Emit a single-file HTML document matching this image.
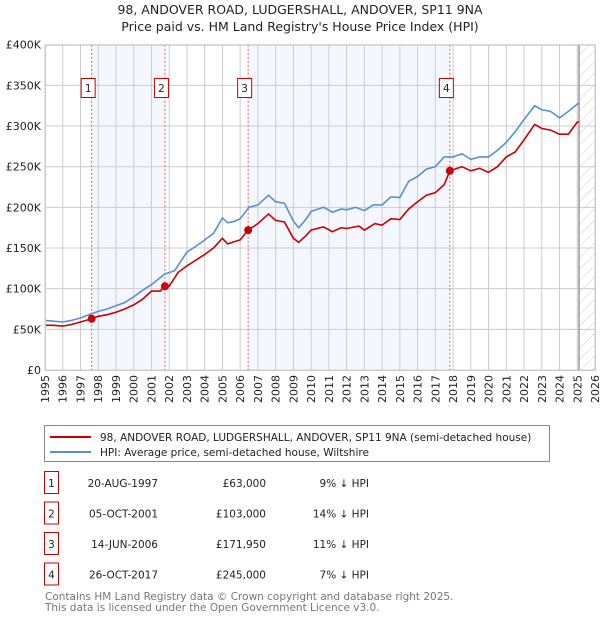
<!DOCTYPE html>
<html><head><meta charset="utf-8"><style>
body{margin:0;background:#fff;font-family:"Liberation Sans","DejaVu Sans",sans-serif;}
svg text{font-family:"DejaVu Sans","Liberation Sans",sans-serif;}
</style></head><body>
<svg id="c" width="600" height="620" xmlns="http://www.w3.org/2000/svg">
<text x="300" y="14" text-anchor="middle" font-size="12.5" fill="#222">98, ANDOVER ROAD, LUDGERSHALL, ANDOVER, SP11 9NA</text>
<text x="300" y="31" text-anchor="middle" font-size="12.5" fill="#222">Price paid vs. HM Land Registry's House Price Index (HPI)</text>
<defs><pattern id="h" width="8" height="8" patternUnits="userSpaceOnUse" patternTransform="rotate(45)"><line x1="0" y1="0" x2="0" y2="8" stroke="#ccc" stroke-width="1"/></pattern></defs>
<g id="plot"></g>
<g>
<rect x="44.5" y="425.5" width="505" height="36" fill="#fff" stroke="#888"/>
<line x1="50" y1="437" x2="91" y2="437" stroke="#cc0000" stroke-width="2"/>
<text x="100" y="441" font-size="10.5" fill="#222">98, ANDOVER ROAD, LUDGERSHALL, ANDOVER, SP11 9NA (semi-detached house)</text>
<line x1="50" y1="452" x2="91" y2="452" stroke="#5b8fd4" stroke-width="2"/>
<text x="100" y="456" font-size="10.5" fill="#222">HPI: Average price, semi-detached house, Wiltshire</text>
</g>
<g id="tbl" font-size="10.5" fill="#222"></g>
<text x="45" y="600" font-size="10.5" fill="#777">Contains HM Land Registry data © Crown copyright and database right 2025.</text>
<text x="45" y="611" font-size="10.5" fill="#777">This data is licensed under the Open Government Licence v3.0.</text>
</svg>
<script>
const hpiT=[1995,1995.5,1996,1996.5,1997,1997.6,1998,1998.5,1999,1999.5,2000,2000.5,2001,2001.75,2002.3,2002.7,2003,2003.5,2004,2004.5,2005,2005.3,2005.7,2006,2006.5,2007,2007.6,2008,2008.5,2009,2009.3,2009.7,2010,2010.7,2011.2,2011.7,2012,2012.5,2013,2013.5,2014,2014.5,2015,2015.5,2016,2016.5,2017,2017.5,2018,2018.5,2019,2019.5,2020,2020.5,2021,2021.5,2022,2022.6,2023,2023.5,2024,2024.5,2025,2025.1];
const hpiV=[61,60,59,61,64,69,72,75,79,83,90,98,105,118,122,135,145,152,160,168,187,181,183,186,200,203,215,207,205,183,175,185,195,200,194,198,197,200,196,203,203,213,212,232,238,247,250,262,262,266,259,262,262,270,280,293,308,325,320,318,310,318,327,328];
const ppT=[1995,1995.5,1996,1996.5,1997,1997.63,1998,1998.5,1999,1999.5,2000,2000.5,2001,2001.5,2001.76,2002,2002.5,2003,2003.5,2004,2004.5,2005,2005.3,2005.7,2006,2006.45,2007,2007.6,2008,2008.5,2009,2009.3,2009.7,2010,2010.7,2011.2,2011.7,2012,2012.7,2013,2013.6,2014,2014.5,2015,2015.5,2016,2016.5,2017,2017.5,2017.82,2018.5,2019,2019.5,2020,2020.5,2021,2021.5,2022,2022.6,2023,2023.5,2024,2024.5,2025,2025.1];
const ppV=[55,55,54,56,59,63,66,68,71,75,80,87,97,97,103,103,120,128,135,142,150,162,155,158,160,172,180,192,184,182,162,157,165,172,176,170,175,174,177,172,180,178,186,185,198,207,215,218,228,245,250,245,248,243,250,262,268,283,302,297,295,290,290,305,305];
const saleT=[1997.63,2001.76,2006.45,2017.82];
const saleV=[63,103,171.95,245];
const saleDates=["20-AUG-1997","05-OCT-2001","14-JUN-2006","26-OCT-2017"];
const salePrices=["£63,000","£103,000","£171,950","£245,000"];
const salePct=["9% ↓ HPI","14% ↓ HPI","11% ↓ HPI","7% ↓ HPI"];
const yTicks=[0,50,100,150,200,250,300,350,400];
const yTickLabels=["£0","£50K","£100K","£150K","£200K","£250K","£300K","£350K","£400K"];
const xYears=[1995,1996,1997,1998,1999,2000,2001,2002,2003,2004,2005,2006,2007,2008,2009,2010,2011,2012,2013,2014,2015,2016,2017,2018,2019,2020,2021,2022,2023,2024,2025,2026];

const X0=45,X1=595,Y0=370,Y1=44.7;
const x=t=>X0+(t-1995)/(2026-1995)*(X1-X0);
const y=v=>Y0-v/400*(Y0-Y1);
const NS="http://www.w3.org/2000/svg";
const g=document.getElementById('plot');
function mk(tag,a,parent){const e=document.createElementNS(NS,tag);for(const k in a)e.setAttribute(k,a[k]);(parent||g).appendChild(e);return e;}
let e;
e=mk('rect',{x:X0,y:Y1,width:X1-X0,height:Y0-Y1,fill:'#fff'});


e=mk('rect',{x:x(saleT[0]),y:Y1,width:x(saleT[1])-x(saleT[0]),height:Y0-Y1,fill:'#f4f7fe'});


e=mk('rect',{x:x(saleT[2]),y:Y1,width:x(saleT[3])-x(saleT[2]),height:Y0-Y1,fill:'#f4f7fe'});


e=mk('rect',{x:x(2025.1),y:Y1,width:X1-x(2025.1),height:Y0-Y1,fill:'url(#h)'});


yTicks.forEach((v,i)=>{
 e=mk('line',{x1:X0,x2:X1,y1:y(v),y2:y(v),stroke:'#ccc','stroke-width':1});
 
 
 e=mk('text',{x:X0-4,y:y(v)+4,'text-anchor':'end','font-size':11,fill:'#222'});
 e.textContent=yTickLabels[i];
 
 
});
xYears.forEach(t=>{
 e=mk('line',{x1:x(t),x2:x(t),y1:Y1,y2:Y0,stroke:'#ccc','stroke-width':1});
 
 
 e=mk('text',{x:0,y:0,'text-anchor':'end','font-size':11,fill:'#222',transform:`translate(${x(t)+4},${Y0+5}) rotate(-90)`});
 e.textContent=t;
 
 
});
e=mk('line',{x1:x(2025.1),x2:x(2025.1),y1:Y1,y2:Y0,stroke:'#999','stroke-width':1.5});


saleT.forEach((t,i)=>{
 e=mk('line',{x1:x(t),x2:x(t),y1:Y1,y2:Y0,stroke:'#e06060','stroke-width':1,'stroke-dasharray':'2,2'});
 
 
});
const path=(T,V)=>T.map((t,i)=>(i?'L':'M')+x(t).toFixed(1)+','+y(V[i]).toFixed(1)).join('');
e=mk('path',{d:path(hpiT,hpiV),fill:'none',stroke:'#5b8fd4','stroke-width':1.6});


e=mk('path',{d:path(ppT,ppV),fill:'none',stroke:'#cc0000','stroke-width':1.6});


saleT.forEach((t,i)=>{
 e=mk('circle',{cx:x(t),cy:y(saleV[i]),r:4,fill:'#cc0000'});
 
 
 e=mk('rect',{x:x(t)-10.5,y:78.5,width:14,height:19,fill:'#fff',stroke:'#cc0000'});
 
 
 e=mk('text',{x:x(t)-3.5,y:92,'text-anchor':'middle','font-size':10.5,fill:'#222'});
 e.textContent=i+1;
 
 
});
e=mk('rect',{x:X0+0.5,y:Y1+0.5,width:X1-X0,height:Y0-Y1,fill:'none',stroke:'#ccc'});


const tb=document.getElementById('tbl');
saleT.forEach((t,i)=>{
 const cy=483+i*30.5;
 e=mk('rect',{x:44.5,y:cy-11.5,width:14,height:22,fill:'#fff',stroke:'#cc0000'},tb);
 
 
 e=mk('text',{x:51.5,y:cy+4,'text-anchor':'middle'},tb);e.textContent=i+1;
 
 
 e=mk('text',{x:158,y:cy+4,'text-anchor':'end'},tb);e.textContent=saleDates[i];
 
 
 e=mk('text',{x:266,y:cy+4,'text-anchor':'end'},tb);e.textContent=salePrices[i];
 
 
 e=mk('text',{x:369,y:cy+4,'text-anchor':'end'},tb);e.textContent=salePct[i];
 
 
});
</script>
</body></html>
